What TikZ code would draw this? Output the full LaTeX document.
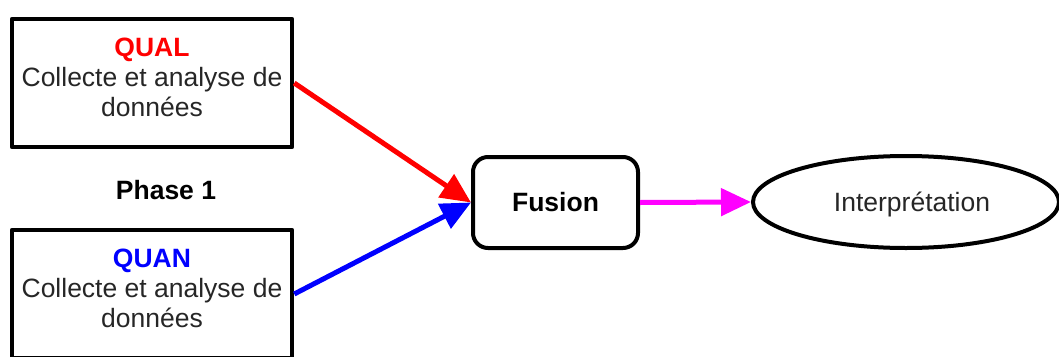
\documentclass[tikz,border=0pt]{standalone}
\usepackage{fontspec}
\setmainfont{Liberation Sans}
\usetikzlibrary{arrows.meta,shapes.geometric}
\definecolor{txtgray}{HTML}{262626}
\definecolor{qualred}{RGB}{255,0,0}
\definecolor{quanblue}{RGB}{0,0,255}
\definecolor{fusemag}{RGB}{255,0,255}

\begin{document}
\begin{tikzpicture}[line join=round, x=1pt, y=-1pt,
    every node/.style={font=\fontsize{26.5}{30}\selectfont, text=txtgray},
    databox/.style={draw, line width=4.5pt, minimum width=280pt, minimum height=128pt, inner sep=0pt},
    fusebox/.style={draw, line width=4pt, rounded corners=15pt, minimum width=165pt, minimum height=91pt, inner sep=0pt, font=\fontsize{26.5}{30}\selectfont\bfseries, text=black},
    interp/.style={draw, ellipse, line width=4pt, minimum width=306pt, minimum height=92pt, inner sep=0pt},
    flow/.style={line width=5pt, -{Triangle[length=30pt,width=27pt]}}]
                \clip (0,0) rectangle (1059,356);
                \useasboundingbox (0,0) rectangle (1059,356);
                \node[databox] (qualbox) at (152,83) {};
                \node[databox] (quanbox) at (152,294) {};
                \node[align=center] (qualtext) at ([yshift=6pt]qualbox.center) {\textcolor{qualred}{\bfseries QUAL}\\Collecte et analyse de\\données};
                \node[align=center] (quantext) at ([yshift=6pt]quanbox.center) {\textcolor{quanblue}{\bfseries QUAN}\\Collecte et analyse de\\données};
                \node[font=\fontsize{26.5}{30}\selectfont\bfseries, text=black] (phase) at (166,190) {Phase 1};
                \node[fusebox] (fusion) at (555.5,202.5) {Fusion};
                \node[interp] (interpretation) at (906,202) {};
                \node (interptext) at ([xshift=6pt,yshift=-2pt]interpretation.center) {Interprétation};
                \draw[flow, qualred] (qualbox.east) -- (fusion.west);
                \draw[flow, quanblue] (quanbox.east) -- (fusion.west);
                \draw[flow, fusemag] (fusion.east) -- (interpretation.west);
            \end{tikzpicture}
\end{document}
